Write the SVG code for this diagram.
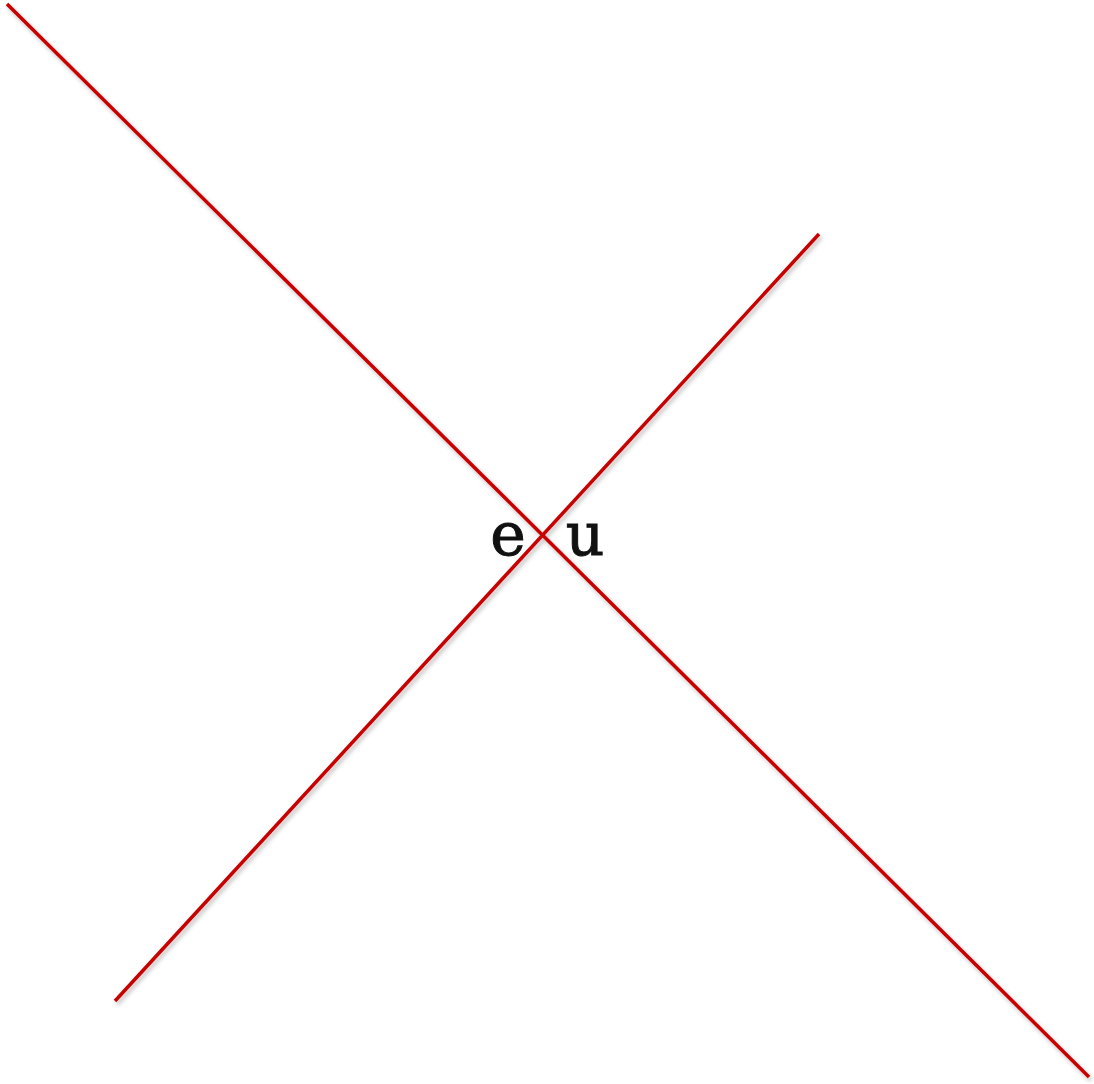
<svg xmlns="http://www.w3.org/2000/svg" width="1094" height="1084" viewBox="0 0 1094 1084">
<style>
.ln{stroke:#c80000;stroke-width:3.5;fill:none}
.lbl{font-family:"DejaVu Serif","Liberation Serif",serif;font-size:60px;fill:#111;stroke:#111;stroke-width:1;text-anchor:middle}
</style>
<defs>
<filter id="sh" x="-5%" y="-5%" width="110%" height="110%">
<feDropShadow dx="2" dy="3" stdDeviation="2" flood-color="#000" flood-opacity="0.25"/>
</filter>
</defs>
<rect width="1094" height="1084" fill="#fff"/>
<g id="connectors" filter="url(#sh)">
<line class="ln" x1="7" y1="4" x2="1089" y2="1077"/>
<line class="ln" x1="819" y1="234" x2="115" y2="1001"/>
</g>
<g id="label-e"><text class="lbl" x="508" y="555">e</text></g>
<g id="label-u"><text class="lbl" x="585" y="555">u</text></g>
</svg>
